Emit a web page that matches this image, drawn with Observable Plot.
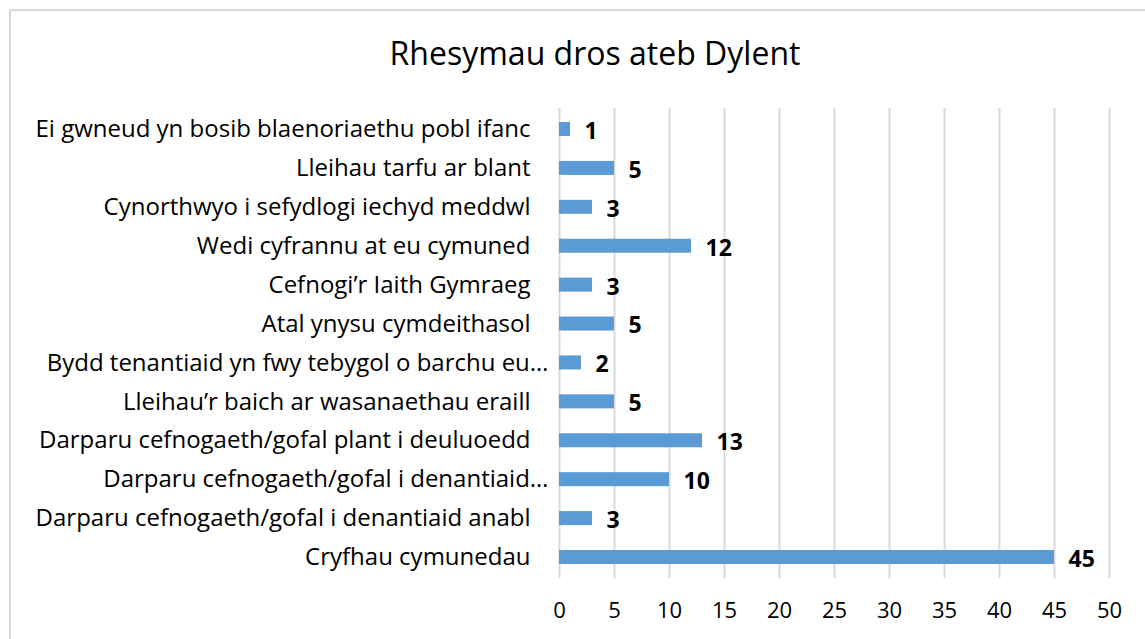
<!DOCTYPE html>
<html>
<head>
<meta charset="utf-8">
<script src="https://cdn.jsdelivr.net/npm/d3@7"></script>
<script src="https://cdn.jsdelivr.net/npm/@observablehq/plot@0.6"></script>
<style>
  html, body { margin: 0; padding: 0; background: #fff; }
  #wrap { position: relative; width: 1145px; height: 639px; overflow: hidden; font-family: "Open Sans", Lato, sans-serif; }
  #frame { position: absolute; left: 9px; top: 9px; width: 1200px; height: 700px; border: 2px solid #d9d9d9; box-sizing: border-box; }
  #title { position: absolute; left: 0; top: 0; width: 1190px; height: 90px; line-height: 106px; text-align: center; font-size: 32px; color: #000; }
  #chart { position: absolute; left: 0; top: 90px; }
  #chart svg { font-family: "Open Sans", Lato, sans-serif; }
</style>
</head>
<body>
<div id="wrap">
  <div id="frame"></div>
  <div id="title">Rhesymau dros ateb Dylent</div>
  <div id="chart"></div>
</div>
<script>
const categories = [
  "Ei gwneud yn bosib blaenoriaethu pobl ifanc",
  "Lleihau tarfu ar blant",
  "Cynorthwyo i sefydlogi iechyd meddwl",
  "Wedi cyfrannu at eu cymuned",
  "Cefnogi’r Iaith Gymraeg",
  "Atal ynysu cymdeithasol",
  "Bydd tenantiaid yn fwy tebygol o barchu eu…",
  "Lleihau’r baich ar wasanaethau eraill",
  "Darparu cefnogaeth/gofal plant i deuluoedd",
  "Darparu cefnogaeth/gofal i denantiaid…",
  "Darparu cefnogaeth/gofal i denantiaid anabl",
  "Cryfhau cymunedau"
];
const values = [1, 5, 3, 12, 3, 5, 2, 5, 13, 10, 3, 45];
const truncated = [
  "Bydd tenantiaid yn fwy tebygol o barchu eu…",
  "Darparu cefnogaeth/gofal i denantiaid…"
];
const xTicks = [0, 5, 10, 15, 20, 25, 30, 35, 40, 45, 50];

const data = categories.map((c, i) => ({category: c, value: values[i]}));
const normal = categories.filter(c => !truncated.includes(c));

const chart = Plot.plot({
  width: 1145,
  height: 549,
  marginLeft: 559,
  marginRight: 36,
  marginTop: 18,
  marginBottom: 61,
  style: {fontSize: "22px", color: "#000", background: "transparent"},
  x: {domain: [0, 50], ticks: xTicks},
  y: {domain: categories, paddingInner: 0.64, paddingOuter: 0.36, round: false, label: null},
  marks: [
    Plot.gridX(xTicks, {stroke: "#d9d9d9", strokeOpacity: 1, strokeWidth: 2}),
    Plot.barX(data, {x: "value", y: "category", fill: "#5b9bd5"}),
    Plot.text(data, {x: "value", y: "category", text: d => String(d.value), textAnchor: "start", dx: 14, dy: 2, fontWeight: "bold", fontSize: 23, fill: "#000"}),
    Plot.axisX(xTicks, {tickSize: 0, tickPadding: 24, label: null, fontSize: 22}),
    Plot.axisY(normal, {tickSize: 0, tickPadding: 29, label: null, fontSize: 24}),
    Plot.axisY(truncated, {tickSize: 0, tickPadding: 11, label: null, fontSize: 24})
  ]
});
document.getElementById("chart").appendChild(chart);
</script>
</body>
</html>
